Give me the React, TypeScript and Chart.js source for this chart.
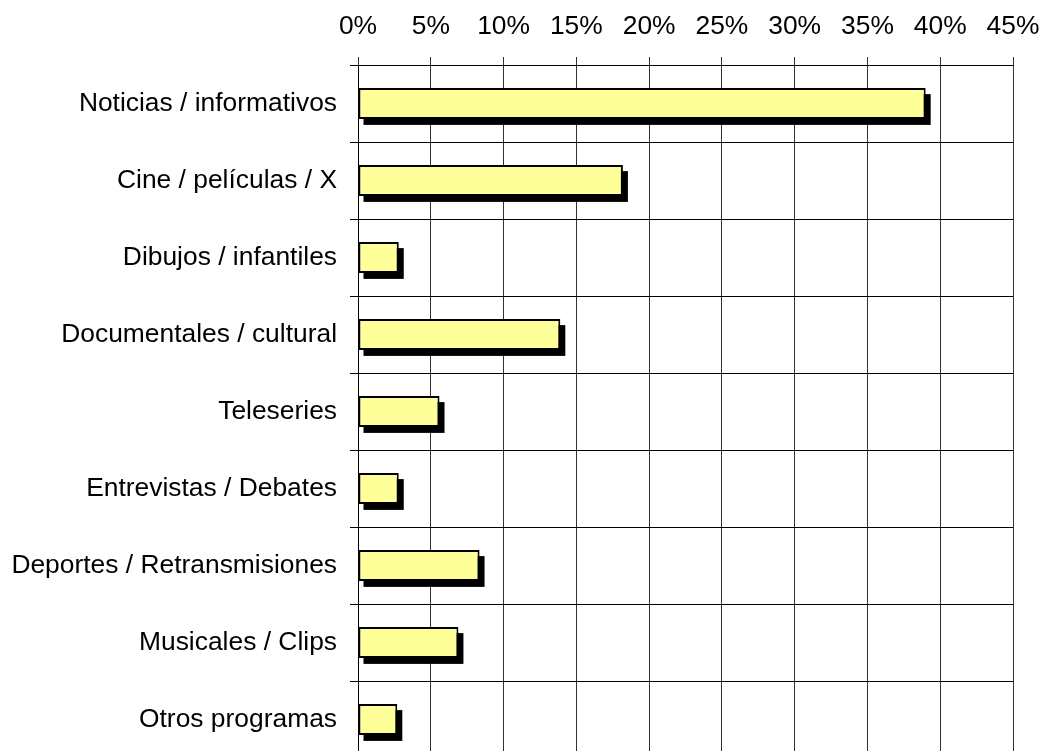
import React, { useEffect, useRef } from "react";
import { Chart, registerables } from "chart.js";

Chart.register(...registerables);

const categories = [
  "Noticias / informativos",
  "Cine / películas / X",
  "Dibujos / infantiles",
  "Documentales / cultural",
  "Teleseries",
  "Entrevistas / Debates",
  "Deportes / Retransmisiones",
  "Musicales / Clips",
  "Otros programas",
];
const percentages = [39, 18.2, 2.8, 13.9, 5.6, 2.8, 8.35, 6.9, 2.7];
const tickMin = 0;
const tickMax = 45;
const tickStep = 5;

const FONT = "'Liberation Sans', Arial, Helvetica, sans-serif";

const shadowPlugin = {
  id: "barShadow",
  beforeDatasetsDraw(chart: any) {
    const ctx = chart.ctx;
    const meta = chart.getDatasetMeta(0);
    ctx.save();
    ctx.fillStyle = "#000000";
    meta.data.forEach((el: any) => {
      const p = el.getProps(["x", "y", "base", "height"], true);
      const left = Math.min(p.x, p.base);
      const w = Math.abs(p.x - p.base);
      ctx.fillRect(left + 5, p.y - p.height / 2 + 6, w, p.height);
    });
    ctx.restore();
  },
};

export default function App() {
  const ref = useRef<HTMLCanvasElement | null>(null);
  useEffect(() => {
    if (!ref.current) return;
    const chart = new Chart(ref.current, {
      type: "bar",
      data: {
        labels: categories,
        datasets: [
          {
            data: percentages,
            backgroundColor: "#FFFF99",
            borderColor: "#000000",
            borderWidth: 2,
            borderSkipped: false,
            categoryPercentage: 1,
            barPercentage: 0.4,
          },
        ],
      },
      options: {
        indexAxis: "y",
        responsive: false,
        animation: false,
        devicePixelRatio: 1,
        layout: { padding: { left: 11, right: 31, top: 0, bottom: 2 } },
        plugins: { legend: { display: false }, tooltip: { enabled: false } },
        scales: {
          x: {
            position: "top",
            min: tickMin,
            max: tickMax,
            ticks: {
              stepSize: tickStep,
              color: "#000",
              font: { family: FONT, size: 26.4 },
              padding: 14,
              callback: (v: any) => v + "%",
            },
            grid: { color: "#333", lineWidth: 1, tickLength: 8, drawTicks: true },
            border: { display: true, color: "#000", width: 1 },
            afterFit: (s: any) => {
              s.height = 65;
              s.paddingLeft = 0;
              s.paddingRight = 0;
            },
          },
          y: {
            ticks: {
              color: "#000",
              font: { family: FONT, size: 26.4 },
              padding: 13,
            },
            grid: { color: "#000", lineWidth: 1, tickLength: 8, offset: true },
            border: { display: true, color: "#000", width: 1 },
            afterFit: (s: any) => {
              s.width = 347;
              s.paddingTop = 0;
              s.paddingBottom = 0;
            },
          },
        },
      },
      plugins: [shadowPlugin],
    });
    return () => chart.destroy();
  }, []);
  return (
    <div
      style={{
        position: "fixed",
        left: 0,
        top: 0,
        width: 1044,
        height: 751,
        overflow: "hidden",
        background: "#fff",
      }}
    >
      <canvas ref={ref} width={1044} height={760} style={{ display: "block" }} />
    </div>
  );
}
